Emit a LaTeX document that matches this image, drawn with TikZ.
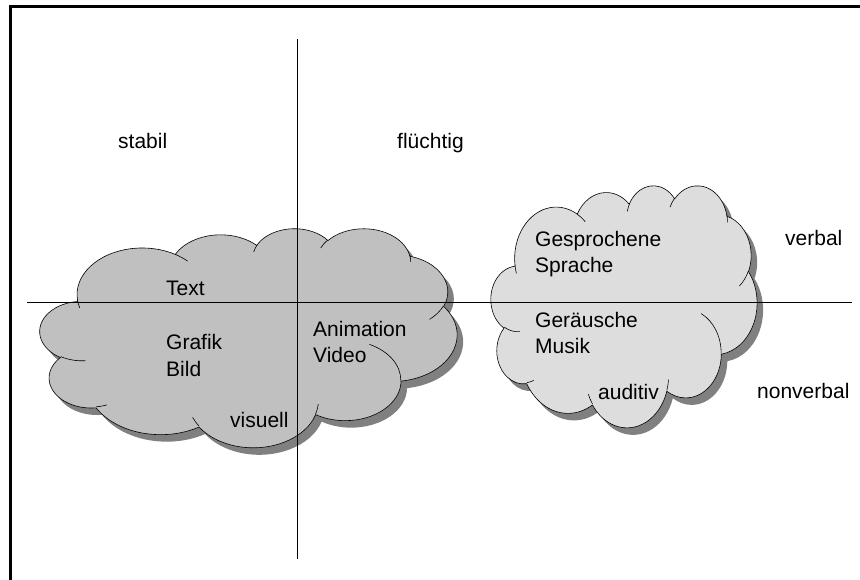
\documentclass[tikz,border=0pt]{standalone}
\usepackage{fontspec}
\setmainfont{Liberation Sans}
\usepackage{tikz}

\definecolor{wolkedunkel}{HTML}{C0C0C0}
\definecolor{wolkehell}{HTML}{DDDDDD}
\definecolor{schattengrau}{HTML}{808080}

% Wolkenumriss, Einheiten: 1/100 der Formgroesse 43200
\newcommand\wolkenpfad{(39,143.7)}
\foreach \rx/\ry/\sa/\sw in {67.53/91.90/-190.49/123.78, 53.33/72.67/-144.10/89.95,
  43.65/59.45/-145.81/99.72, 48.57/65.95/-130.99/117.24, 53.33/72.73/-78.71/109.03,
  67.75/92.20/-46.27/130.27, 57.85/78.67/0.63/114.03, 67.52/92.15/22.45/115.17,
  77.20/105.43/66.24/75.71, 43.60/59.18/-274.94/146.74, 43.45/59.45/-246.83/152.52}{%
  \pgfmathsetmacro\wka{atan2(\rx*sin(\sa),\ry*cos(\sa))}%
  \pgfmathsetmacro\wkb{atan2(\rx*sin(\sa+\sw),\ry*cos(\sa+\sw))}%
  \pgfmathsetmacro\wkd{mod(\wkb-(\wka)+720,360)}%
  \xdef\wolkenpfad{\wolkenpfad arc[x radius=\rx,y radius=\ry,start angle=\wka,delta angle=\wkd]}%
}
\xdef\wolkenpfad{\wolkenpfad -- cycle}

% Innenlinien der Wolke
\newcommand\wolkenlinien{}
\foreach \px/\py/\rx/\ry/\sa/\sw in {46.93/261.77/43.45/59.45/86.74/26.43,
  69.28/348.99/43.60/59.18/73.61/11.45, 164.78/390.90/67.52/92.15/137.62/14.08,
  288.27/347.51/67.52/92.15/6.45/16.00, 341.29/229.54/57.85/78.67/-70.29/70.92,
  417.98/153.54/53.33/72.73/30.32/27.75, 383.24/54.26/48.57/65.95/-13.74/14.86,
  290.78/39.52/48.57/65.95/-149.18/18.20, 221.41/47.20/43.65/59.45/-163.49/17.69,
  140.00/51.92/67.53/91.90/-66.71/12.32, 41.27/157.89/67.53/91.90/157.65/11.86}{%
  \pgfmathsetmacro\wka{atan2(\rx*sin(\sa),\ry*cos(\sa))}%
  \pgfmathsetmacro\wkb{atan2(\rx*sin(\sa+\sw),\ry*cos(\sa+\sw))}%
  \pgfmathsetmacro\wkd{mod(\wkb-(\wka)+720,360)}%
  \xdef\wolkenlinien{\wolkenlinien (\px,\py) arc[x radius=\rx,y radius=\ry,start angle=\wka,delta angle=\wkd]}%
}

\begin{document}
\begin{tikzpicture}[x=1pt,y=-1pt,
  wolke/.style={draw=black,line width=0.6pt},
  schatten/.style={fill=schattengrau},
  achse/.style={draw=black,line width=0.7pt},
  beschriftung/.style={font=\fontsize{21}{26}\selectfont,inner sep=0pt,anchor=base west}]
\useasboundingbox (0,0) rectangle (860,580);
% Rahmen
\draw[line width=3pt] (10,580) -- (10,7) -- (860,7);

% visuelle Wolke
\begin{scope}[shift={(46,235)},xscale=417/432,yscale=219/432]
  \fill[schatten] \wolkenpfad;
\end{scope}
\begin{scope}[shift={(40,228)},xscale=417/432,yscale=219/432]
  \filldraw[wolke,fill=wolkedunkel] \wolkenpfad;
  \draw[wolke] \wolkenlinien;
\end{scope}

% auditive Wolke
\begin{scope}[shift={(497,192)},xscale=266/432,yscale=242/432]
  \fill[schatten] \wolkenpfad;
\end{scope}
\begin{scope}[shift={(491,185)},xscale=266/432,yscale=242/432]
  \filldraw[wolke,fill=wolkehell] \wolkenpfad;
  \draw[wolke] \wolkenlinien;
\end{scope}

% Achsen
\coordinate (links) at (27,302);
\coordinate (rechts) at (852,302);
\coordinate (oben) at (297.5,39);
\coordinate (unten) at (297.5,559);
\draw[achse] (links) -- (rechts);
\draw[achse] (oben) -- (unten);

\node[beschriftung] (stabil) at (118,149) {stabil};
\node[beschriftung] (fluechtig) at (397,149) {flüchtig};
\node[beschriftung] (verbal) at (785,246) {verbal};
\node[beschriftung] (nonverbal) at (757,398) {nonverbal};
\node[beschriftung] (text) at (166,296) {Text};
\node[beschriftung] (grafik) at (166,349) {Grafik};
\node[beschriftung] (bild) at (166,376) {Bild};
\node[beschriftung] (animation) at (313,336) {Animation};
\node[beschriftung] (video) at (313,362) {Video};
\node[beschriftung] (visuell) at (230,427) {visuell};
\node[beschriftung] (gesprochene) at (535,247) {Gesprochene};
\node[beschriftung] (sprache) at (535,273) {Sprache};
\node[beschriftung] (geraeusche) at (535,327) {Geräusche};
\node[beschriftung] (musik) at (535,353) {Musik};
\node[beschriftung] (auditiv) at (598,399) {auditiv};
\end{tikzpicture}
\end{document}
